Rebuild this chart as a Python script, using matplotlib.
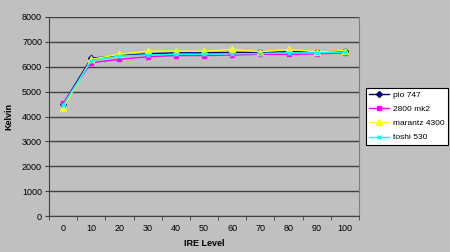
import numpy as np
import matplotlib
matplotlib.use('Agg')
import matplotlib.pyplot as plt

plt.rcParams['font.family'] = ['Liberation Sans', 'DejaVu Sans']

ire = [0, 10, 20, 30, 40, 50, 60, 70, 80, 90, 100]
pio747 = [4500, 6340, 6450, 6520, 6560, 6560, 6570, 6580, 6600, 6600, 6630]
mk2800 = [4530, 6160, 6300, 6400, 6450, 6450, 6470, 6500, 6500, 6520, 6550]
marantz4300 = [4340, 6300, 6500, 6630, 6630, 6620, 6700, 6600, 6700, 6600, 6650]
toshi530 = [4450, 6250, 6430, 6480, 6500, 6500, 6520, 6530, 6560, 6560, 6580]

series = [
    ('pio 747', pio747, '#000080', 'D', 3),
    ('2800 mk2', mk2800, '#ff00ff', 's', 3.5),
    ('marantz 4300', marantz4300, '#ffff00', '^', 4),
    ('toshi 530', toshi530, '#00ffff', 'x', 3.5),
]

bg = '#c0c0c0'
fig = plt.figure(figsize=(4.5, 2.52), dpi=100, facecolor=bg)
ax = fig.add_axes([49/450, 1-216/252, 310/450, 199/252], facecolor=bg)

x = np.arange(len(ire))
for name, vals, col, mk, ms in series:
    ax.plot(x, vals, color=col, marker=mk, markersize=ms, lw=1, label=name)

ax.set_xlim(-0.5, len(ire)-0.5)
ax.set_ylim(0, 8000)
ax.set_yticks(range(0, 8001, 1000))
ax.set_xticks(x)
ax.set_xticklabels([str(v) for v in ire])
ax.set_xticks(np.arange(-0.5, len(ire)), minor=True)
ax.tick_params(axis='x', which='major', length=0, labelsize=6.5, colors='#000000', pad=6)
ax.tick_params(axis='x', which='minor', length=3, direction='out', color='#404040')
ax.tick_params(axis='y', length=3, direction='out', labelsize=6.5, color='#404040', pad=2)
ax.grid(axis='y', color='#404040', lw=1)
ax.set_axisbelow(True)
ax.spines['top'].set_visible(False)
ax.spines['right'].set_color('#808080')
ax.spines['left'].set_color('#404040')
ax.spines['bottom'].set_color('#404040')

ax.set_xlabel('IRE Level', fontsize=6.5, fontweight='bold', labelpad=4)
ax.set_ylabel('Kelvin', fontsize=6.5, fontweight='bold', labelpad=6)

leg = fig.legend(loc='upper left', bbox_to_anchor=(366/450, 1-88/252), fontsize=6,
                 frameon=True, fancybox=False, edgecolor='black', facecolor='white',
                 framealpha=1, borderpad=0.4, labelspacing=0.75, handlelength=2.4,
                 handletextpad=0.4, borderaxespad=0)
leg.get_frame().set_linewidth(0.8)

fig.savefig('out.png', dpi=100, facecolor=bg)
